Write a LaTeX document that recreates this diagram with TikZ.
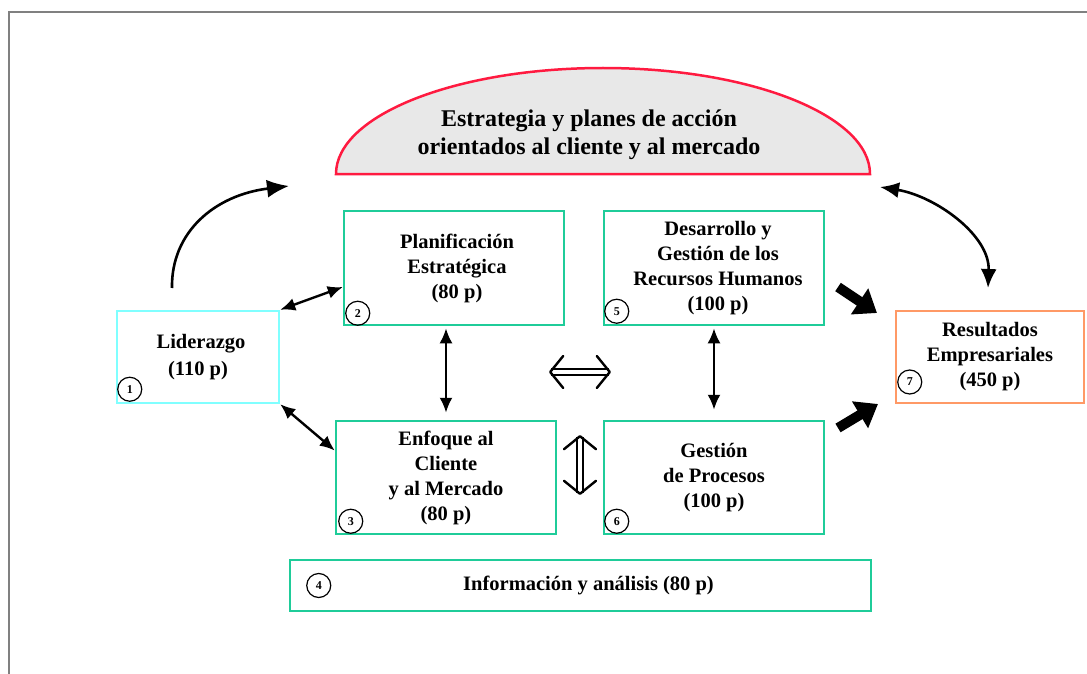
\documentclass[tikz,border=0pt]{standalone}
\usepackage{fontspec}
\setmainfont{Liberation Serif}
\usetikzlibrary{calc,arrows.meta,positioning}
\definecolor{boxgreen}{HTML}{1FCC99}
\definecolor{boxcyan}{HTML}{80FFFF}
\definecolor{boxorange}{HTML}{FF9966}
\definecolor{arcred}{HTML}{FF1A40}
\definecolor{arcfill}{HTML}{E8E8E8}

\begin{document}
\begin{tikzpicture}[x=1pt,y=-1pt]
    \tikzset{
      box/.style={draw=boxgreen, rectangle, line width=2.5pt, inner sep=0pt, align=center, font=\bfseries\fontsize{20.5}{25}\selectfont},
      num/.style={draw, circle, line width=1.2pt, minimum size=24pt, inner sep=0pt, font=\bfseries\fontsize{12}{13}\selectfont},
      title/.style={align=center, font=\bfseries\fontsize{24}{28.5}\selectfont},
      line/.style={draw, line width=2.4pt, {Latex[length=15pt,width=13pt]}-{Latex[length=15pt,width=13pt]}},
      swing/.style={draw, line width=2.6pt},
      hollow/.style={draw, double, line width=1.8pt, double distance=3.5pt, {Straight Barb[length=13pt,width=32pt,line width=2.4pt,round]}-{Straight Barb[length=13pt,width=32pt,line width=2.4pt,round]}},
      fat/.style={draw, line width=10pt, -{Triangle[length=21pt,width=30pt]}}
    }
    \useasboundingbox (0,0) rectangle (1087,674);
    \draw [gray, line width=1.5pt] (1087,12) -- (9,12) -- (9,674);

    \draw [draw=arcred, fill=arcfill, line width=2.5pt] (336,174) arc[start angle=180, end angle=360, x radius=267, y radius=106] -- cycle;
    \node [title] (strat) at (589,135) {Estrategia y planes de acción\\orientados al cliente y al mercado};

    \node [box, draw=boxcyan, minimum width=162pt, minimum height=92pt, font=\bfseries\fontsize{20.5}{27}\selectfont] (lid) at (198,357) {\hspace*{6pt}Liderazgo\\(110 p)};
    \node [box, minimum width=220pt, minimum height=114pt] (plan) at (454,268) {\hspace*{6pt}Planificación\\\hspace*{6pt}Estratégica\\\hspace*{6pt}(80 p)};
    \node [box, minimum width=220pt, minimum height=114pt] (des) at (714,268) {\hspace*{8pt}Desarrollo y\\\hspace*{8pt}Gestión de los\\\hspace*{8pt}Recursos Humanos\\\hspace*{8pt}(100 p)};
    \node [box, minimum width=220pt, minimum height=113pt] (enf) at (446,477.5) {Enfoque al\\Cliente\\y al Mercado\\(80 p)};
    \node [box, minimum width=220pt, minimum height=113pt] (ges) at (714,477.5) {Gestión\\de Procesos\\(100 p)};
    \node [box, draw=boxorange, minimum width=188pt, minimum height=92pt] (res) at (990,357) {Resultados\\Empresariales\\(450 p)};
    \node [box, minimum width=581pt, minimum height=51pt] (info) at (580.5,585.5) {\hspace*{16pt}Información y análisis (80 p)};

    \node [num] (n1) at ($(lid.south west)+(14,-15)$) {1};
    \node [num] (n2) at ($(plan.south west)+(15,-13)$) {2};
    \node [num] (n3) at ($(enf.south west)+(16,-14)$) {3};
    \node [num] (n4) at ($(info.west)+(30,0)$) {4};
    \node [num] (n5) at ($(des.south west)+(14,-15)$) {5};
    \node [num] (n6) at ($(ges.south west)+(14,-14)$) {6};
    \node [num] (n7) at ($(res.west)+(15,25)$) {7};

    \coordinate (lcs) at (172,288);
    \coordinate (lce) at (289,186);
    \coordinate (rcs) at (880,187);
    \coordinate (rce) at (988,288);
    \coordinate (hl) at (549,372);
    \coordinate (hr) at (611,372);
    \coordinate (vt) at (580,435);
    \coordinate (vb) at (580,495);
    \coordinate (f1s) at (838,287);
    \coordinate (f1e) at (877,313);
    \coordinate (f2s) at (838,428);
    \coordinate (f2e) at (878,404);

    \path [swing, -{Latex[length=22pt,width=18pt]}] (lcs) .. controls (171,232) and (215,195) .. (lce);
    \path [swing, {Latex[length=19pt,width=16pt]}-{Latex[length=19pt,width=16pt]}] (rcs) .. controls (935,196) and (990,235) .. (rce);
    \path [line] (lid.north east) -- ([yshift=-19pt]plan.west);
    \path [line] (lid.south east) -- ([yshift=27pt]enf.west);
    \path [line, shorten <=2pt, shorten >=7pt] (enf.north |- plan.south) -- (enf.north);
    \path [line, shorten <=2pt, shorten >=10pt] (des.south) -- (ges.north);
    \path [hollow] (hl) -- (hr);
    \path [hollow] (vt) -- (vb);
    \path [fat] (f1s) -- (f1e);
    \path [fat] (f2s) -- (f2e);
\end{tikzpicture}
\end{document}
